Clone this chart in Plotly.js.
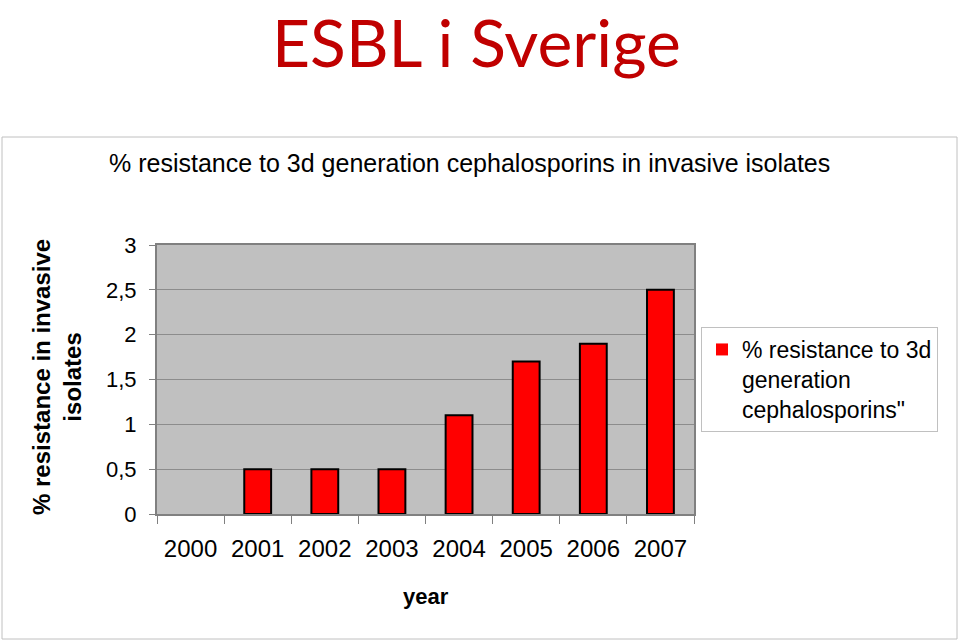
<!DOCTYPE html>
<html>
<head>
<meta charset="utf-8">
<script src="https://cdn.plot.ly/plotly-3.0.1.min.js"></script>
<style>html,body{margin:0;padding:0;background:#fff;}</style>
</head>
<body>
<div id="chart" style="width:959px;height:640px;"></div>
<script>
const years = ["2000", "2001", "2002", "2003", "2004", "2005", "2006", "2007"];
const resistance = [0, 0.5, 0.5, 0.5, 1.1, 1.7, 1.9, 2.5];
const yTickVals = [0, 0.5, 1, 1.5, 2, 2.5, 3];
const yTickText = ["0", "0,5", "1", "1,5", "2", "2,5", "3"];
const seriesName = "% resistance to 3d<br>generation<br>cephalosporins\"";

const PL = 157, PR = 694, PT = 245, PB = 514;
const W = 959, H = 640;
const px = x => (x - PL) / (PR - PL);
const py = y => (PB - y) / (PB - PT);

const trace = {
  type: "bar",
  x: years,
  y: resistance,
  name: seriesName,
  width: 0.4,
  marker: {color: "#ff0000",
           line: {color: "#000000", width: resistance.map(v => v > 0 ? 2 : 0)}},
  showlegend: true,
  hoverinfo: "x+y"
};

const layout = {
  width: W, height: H,
  margin: {l: PL, r: W - PR, t: PT, b: H - PB, pad: 0},
  paper_bgcolor: "#ffffff",
  plot_bgcolor: "#c0c0c0",
  font: {family: "Liberation Sans, Arial, sans-serif", color: "#000"},
  bargap: 0.6,
  xaxis: {
    type: "category",
    tickson: "boundaries",
    ticks: "outside", ticklen: 8, tickcolor: "#808080", tickwidth: 1,
    ticklabelstandoff: 12,
    showline: true, linecolor: "#808080", linewidth: 2, mirror: true,
    showgrid: false,
    tickfont: {size: 24, family: "Liberation Sans, Arial, sans-serif"},
    range: [-0.5, 7.5],
    automargin: false
  },
  yaxis: {
    range: [0, 3],
    tickvals: yTickVals, ticktext: yTickText,
    ticks: "outside", ticklen: 6, tickcolor: "#808080",
    ticklabelstandoff: 8,
    showline: true, linecolor: "#808080", linewidth: 2, mirror: true,
    showgrid: true, gridcolor: "#8c8c8c", gridwidth: 1,
    zeroline: false,
    tickfont: {size: 22, family: "Liberation Sans, Arial, sans-serif"},
    automargin: false
  },
  legend: {
    x: px(701), y: py(327), xanchor: "left", yanchor: "top",
    bgcolor: "#ffffff", bordercolor: "#c0c0c0", borderwidth: 1,
    font: {size: 23, family: "Liberation Sans, Arial, sans-serif"},
    valign: "top",
    itemwidth: 30
  },
  shapes: [
    {type: "rect", xref: "paper", yref: "paper",
     x0: px(2), x1: px(957), y0: py(639), y1: py(137),
     line: {color: "#c0c0c0", width: 1}, fillcolor: "rgba(0,0,0,0)", layer: "below"}
  ],
  annotations: [
    {text: "ESBL i Sverige", xref: "paper", yref: "paper", x: px(476), y: py(0),
     xanchor: "center", yanchor: "top", showarrow: false,
     font: {size: 66, color: "#c00000", family: "Lato, Carlito, Calibri, sans-serif"}},
    {text: "% resistance to 3d generation cephalosporins in invasive isolates", xref: "paper", yref: "paper",
     x: px(469), y: py(163), xanchor: "center", yanchor: "middle", showarrow: false,
     font: {size: 25, color: "#000"}},
    {text: "<b>% resistance in invasive<br>isolates</b>", xref: "paper", yref: "paper",
     x: px(57), y: py(377), xanchor: "center", yanchor: "middle", showarrow: false,
     textangle: -90, font: {size: 24, color: "#000"}},
    {text: "<b>year</b>", xref: "paper", yref: "paper",
     x: px(426), y: py(596), xanchor: "center", yanchor: "middle", showarrow: false,
     font: {size: 22, color: "#000"}}
  ]
};

Plotly.newPlot("chart", [trace], layout, {displayModeBar: false, staticPlot: true});
</script>
</body>
</html>
